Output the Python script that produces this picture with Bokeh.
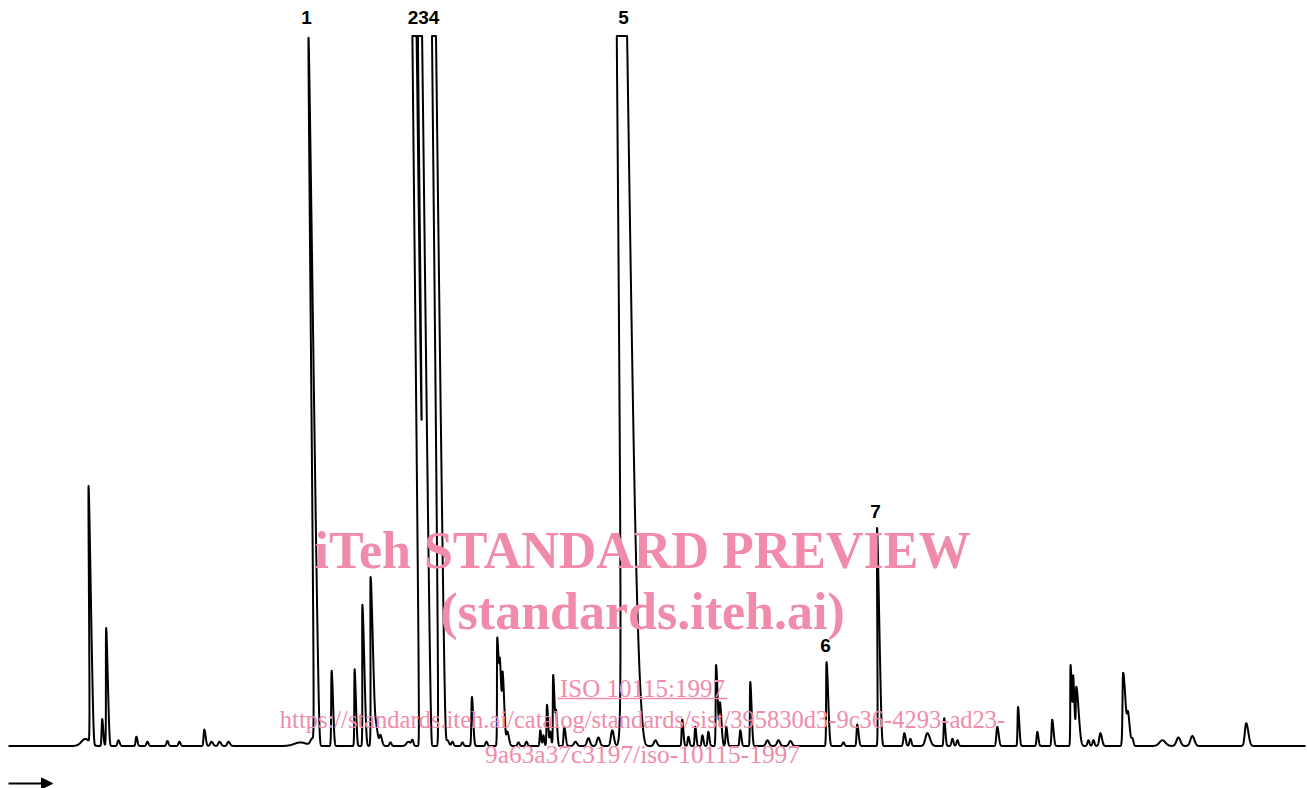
import numpy as np
from bokeh.plotting import figure
from bokeh.models import Range1d, ColumnDataSource, Arrow, NormalHead
from bokeh.core.properties import value
from bokeh.embed import file_html
from bokeh.resources import INLINE

# ---- peak table (retention in chart units, height in % of full scale)
peak_rt = [85, 91, 102, 107, 118, 136, 147, 167, 179, 204, 211, 219, 228,
           300, 312, 316, 332, 355, 363.5, 372, 376, 380, 390, 408, 412,
           422, 427.5, 441.5, 447, 452, 462, 472, 486, 498, 500.5, 503, 507,
           518, 526, 540, 543, 547, 550, 553.5, 556, 564, 575, 588, 598, 612,
           629, 639, 655, 682, 688, 695, 702, 708, 716.5, 720, 726, 740, 750.5,
           767, 778, 790, 827, 843, 857, 879, 904, 910, 927, 944, 952, 957,
           997, 1018, 1037, 1052, 1071, 1073.5, 1076.5, 1088, 1093, 1100,
           1123.5, 1128, 1132, 1162, 1178, 1192, 1246]
peak_height = [1.0, 36.3, 3.8, 16.6, 0.8, 1.3, 0.6, 0.7, 0.6, 2.3, 0.6, 0.6, 0.6,
               0.5, 1.0, 99.6, 10.6, 10.8, 19.9, 23.8, 2.5, 1.5, 0.5, 0.6, 0.8,
               1000, 1000, 400, 0.8, 0.6, 0.5, 6.9, 0.6, 15.2, 10.3, 10.0, 2.0,
               0.5, 0.6, 2.2, 1.5, 5.8, 2.0, 10.0, 4.6, 2.7, 0.6, 1.1, 1.2, 2.2,
               300, 6.0, 0.8, 3.7, 1.3, 2.7, 1.5, 2.0, 11.4, 6.0, 2.7, 2.2, 9.0,
               0.8, 0.8, 0.7, 11.8, 0.5, 3.0, 30.7, 1.8, 1.0, 1.8, 3.9, 1.0, 0.8,
               2.7, 5.5, 2.0, 3.7, 11.4, 9.7, 8.3, 0.8, 0.8, 1.8,
               10.3, 4.0, 1.0, 0.8, 1.2, 1.4, 3.2]
peak_sigma_left = [4, 0.8, 0.7, 0.8, 1, 0.8, 1, 1, 1, 0.8, 1.2, 1.2, 1.2,
                   6, 2, 1.0, 0.8, 0.7, 0.8, 0.9, 1, 1, 1, 2, 1,
                   1.0, 1.0, 1.2, 1.5, 1, 1, 0.8, 1, 0.8, 0.8, 0.8, 1,
                   1, 1, 0.7, 0.7, 0.7, 0.7, 0.7, 0.7, 0.8, 1.5, 1.5, 1.5, 1.5,
                   3.2, 1.5, 1.5, 0.7, 0.8, 0.7, 0.8, 0.8, 0.8, 0.8, 0.8, 0.8, 0.7,
                   1.5, 1.5, 1.5, 0.8, 1, 0.8, 0.8, 1, 1, 2, 0.7, 1, 1,
                   1, 0.7, 0.8, 0.8, 0.7, 0.7, 0.8, 1, 1, 1.2,
                   1.0, 1, 1, 3, 2, 2, 1.5]
peak_sigma_right = [4, 1.0, 0.9, 1.0, 1.2, 1, 1, 1, 1, 1.2, 1.5, 1.5, 1.5,
                    6, 2, 1.2, 1, 0.9, 1.2, 1.5, 1.5, 1.5, 1, 2, 1,
                    1.0, 1.0, 1.2, 1.5, 1, 1, 1.0, 1, 1.2, 1.0, 1.2, 1.5,
                    1, 1, 0.8, 0.8, 0.9, 0.8, 1.0, 0.9, 1.2, 1.5, 1.5, 1.5, 1.5,
                    3.8, 2.5, 1.5, 1.0, 1, 0.9, 1, 1, 1.2, 1.2, 1, 1, 1.0,
                    1.5, 1.5, 1.5, 1.2, 1, 1.2, 1.1, 1.2, 1, 2.5, 1, 1, 1,
                    1.3, 1, 1, 1.2, 0.9, 0.9, 2.0, 1, 1, 1.5,
                    2.0, 1.5, 1, 3, 2, 2, 2]

label_text = ["1", "234", "5", "6", "7"]
label_x = [306, 423, 623, 825, 875]
label_y = [102.6, 102.6, 102.6, 14.2, 33.0]

wm_text = ["iTeh STANDARD PREVIEW", "(standards.iteh.ai)"]
wm_y = [27.5, 19.0]
wm_small_text = ["ISO 10115:1997",
                 "https://standards.iteh.ai/catalog/standards/sist/395830d3-9c36-4293-ad23-",
                 "9a63a37c3197/iso-10115-1997"]
wm_small_y = [8.1, 3.7, -1.2]
wm_small_size = ["25px", "24.5px", "25.4px"]

FULL_SCALE = 100.0     # recorder pen limit
PEN_ARC = 0.08         # pen arc lean per unit of deflection

# ---- recorder trace
t = np.arange(8, 1305.05, 0.1)
signal = np.zeros_like(t)
for rt, h, sl, sr in zip(peak_rt, peak_height, peak_sigma_left, peak_sigma_right):
    s = np.where(t < rt, sl, sr)
    signal += h * np.exp(-0.5 * ((t - rt) / s) ** 2)
pen = np.minimum(signal, FULL_SCALE)
x_pen = t - PEN_ARC * pen

p = figure(width=1307, height=788, output_backend="svg", toolbar_location=None,
           x_range=Range1d(0, 1307), y_range=Range1d(-5.99, 105.0),
           x_axis_location=None, y_axis_location=None, min_border=0)
p.grid.visible = False
p.outline_line_color = None
p.background_fill_color = "white"
p.border_fill_color = "white"

p.line(x_pen, pen, line_color="black", line_width=2, line_join="round")

src = ColumnDataSource(dict(x=label_x, y=label_y, text=label_text))
p.text(x="x", y="y", text="text", source=src, text_font=value("Liberation Sans"),
       text_font_style="bold", text_font_size="19px", text_align="center",
       text_baseline="middle", text_color="black")

p.add_layout(Arrow(end=NormalHead(size=11, fill_color="black", line_color="black"),
                   x_start=8, y_start=-5.28, x_end=52, y_end=-5.28,
                   line_width=2, line_color="black"))

pink = "#F08CAA"
wsrc = ColumnDataSource(dict(x=[642] * len(wm_text), y=wm_y, text=wm_text))
p.text(x="x", y="y", text="text", source=wsrc, text_font=value("Liberation Serif"),
       text_font_style="bold", text_font_size="52px", text_align="center",
       text_baseline="middle", text_color=pink)
wsrc2 = ColumnDataSource(dict(x=[642] * len(wm_small_text), y=wm_small_y,
                              text=wm_small_text, size=wm_small_size))
p.text(x="x", y="y", text="text", source=wsrc2, text_font=value("Liberation Serif"),
       text_font_size="size", text_align="center",
       text_baseline="middle", text_color=pink)
p.segment(x0=[557], y0=[6.69], x1=[727], y1=[6.69], line_color=pink, line_width=1.5)

open("out.html", "w").write(file_html(p, INLINE))
